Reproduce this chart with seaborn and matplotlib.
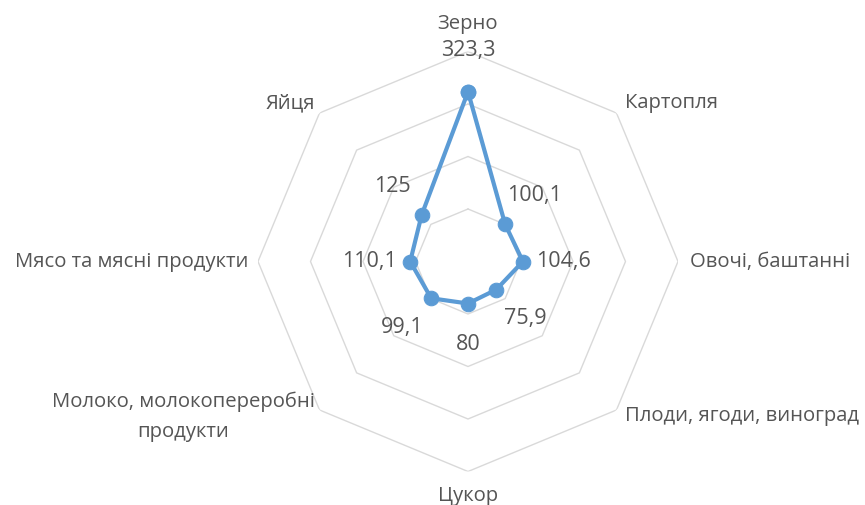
"""Radar chart: production index by food group."""

import matplotlib
matplotlib.use("Agg")
import matplotlib.pyplot as plt
import numpy as np
import seaborn as sns

categories = [
    "Зерно",
    "Картопля",
    "Овочі, баштанні",
    "Плоди, ягоди, виноград",
    "Цукор",
    "Молоко, молокопереробні\nпродукти",
    "Мясо та мясні продукти",
    "Яйця",
]
values = [323.3, 100.1, 104.6, 75.9, 80.0, 99.1, 110.1, 125.0]
value_labels = ["323,3", "100,1", "104,6", "75,9", "80", "99,1", "110,1", "125"]
ring_levels = [100, 200, 300, 400]

LINE_COLOR = "#5B9BD5"
GRID_COLOR = "#D9D9D9"
TEXT_COLOR = "#555555"

sns.set_style("white")
plt.rcParams["font.family"] = ["Open Sans", "DejaVu Sans"]

n = len(categories)
angles = np.linspace(0, 2 * np.pi, n, endpoint=False)
angles_closed = np.append(angles, 2 * np.pi)
values_closed = np.append(values, values[0])

fig = plt.figure(figsize=(8.65, 5.05), dpi=100)
cx, cy, rad = 468 / 865, (505 - 261.5) / 505, 210
w, h = 2 * rad / 865, 2 * rad / 505
ax = fig.add_axes([cx - w / 2, cy - h / 2, w, h], projection="polar")
ax.set_theta_offset(np.pi / 2)
ax.set_theta_direction(-1)
ax.set_ylim(0, ring_levels[-1])
ax.grid(False)
ax.set_xticks([])
ax.set_yticks([])
ax.spines["polar"].set_visible(False)
ax.patch.set_alpha(0)

# octagonal gridlines
for r in ring_levels:
    ax.plot(angles_closed, [r] * (n + 1), color=GRID_COLOR, lw=1, zorder=1)

sns.lineplot(x=angles_closed, y=values_closed, sort=False, estimator=None,
             ax=ax, color=LINE_COLOR, lw=3.0, marker="o", markersize=10.5,
             markeredgecolor=LINE_COLOR, zorder=3)

# data labels, pushed radially outward
for th, v, lab in zip(angles, values, value_labels):
    dx, dy = 41 * np.sin(th), 41 * np.cos(th)
    ax.annotate(lab, xy=(th, v), xytext=(dx, dy), textcoords="offset pixels",
                ha="center", va="center", fontsize=15.5, color=TEXT_COLOR)

# category labels outside the outer ring
cat_offsets = [
    ((0, 28), "center"),
    ((9, 10), "left"),
    ((12, 0), "left"),
    ((9, -6), "left"),
    ((0, -24), "center"),
    ((-5, -7), "right"),
    ((-10, 0), "right"),
    ((-4, 10), "right"),
]
for th, lab, (off, ha) in zip(angles, categories, cat_offsets):
    ax.annotate(lab, xy=(th, ring_levels[-1]), xytext=off,
                textcoords="offset pixels", ha=ha, va="center",
                multialignment="center", fontsize=14.6, color=TEXT_COLOR,
                linespacing=1.65, annotation_clip=False)

fig.savefig("out.png", dpi=100)
